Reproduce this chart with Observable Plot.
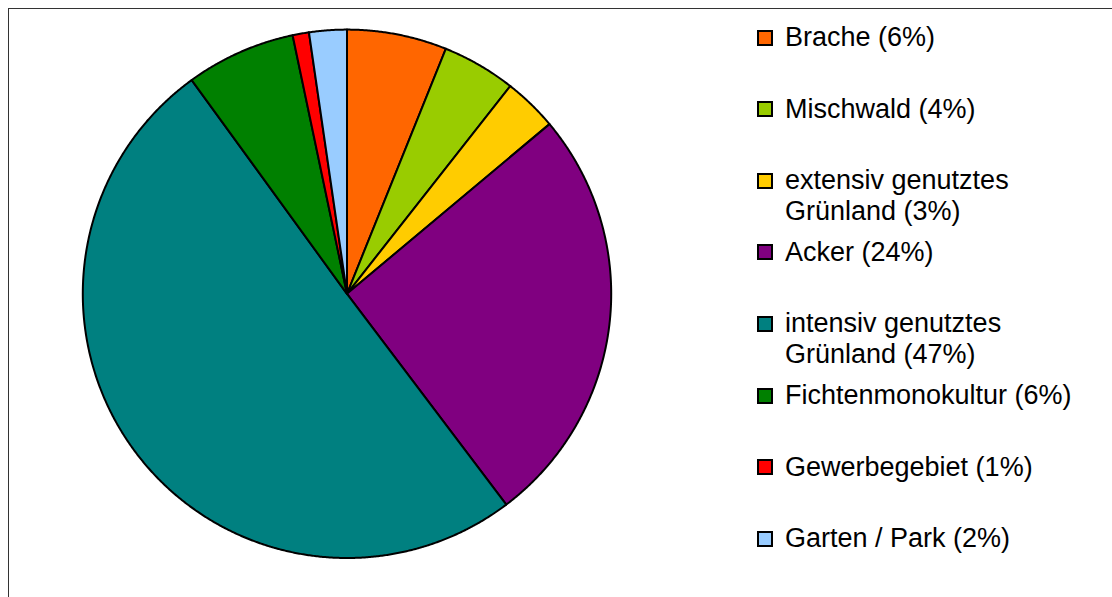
<!DOCTYPE html>
<html>
<head>
<meta charset="utf-8">
<script src="https://cdn.jsdelivr.net/npm/d3@7"></script>
<script src="https://cdn.jsdelivr.net/npm/@observablehq/plot@0.6"></script>
<style>
  html, body { margin: 0; padding: 0; background: #fff; overflow: hidden; }
  #wrap { position: relative; width: 1112px; height: 597px; overflow: hidden; font-family: "Liberation Sans", Arial, sans-serif; }
  #frame { position: absolute; left: 8px; top: 8px; width: 1300px; height: 800px; border: 1px solid #333; box-sizing: border-box; }
  #chart { position: absolute; left: 0; top: 0; }
  .sw { position: absolute; left: 757px; width: 16px; height: 16px; border: 2px solid #000; box-sizing: border-box; }
  .lab { position: absolute; left: 785px; width: 310px; font-size: 27px; line-height: 31px; color: #000; white-space: normal; }
</style>
</head>
<body>
<div id="wrap">
  <div id="frame"></div>
  <div id="chart"></div>
  <div id="legend"></div>
</div>
<script>
const categories = ["Brache", "Mischwald", "extensiv genutztes Grünland", "Acker", "intensiv genutztes Grünland", "Fichtenmonokultur", "Gewerbegebiet", "Garten / Park"];
const values = [6.1, 4.5, 3.3, 25.8, 50.3, 6.7, 1.0, 2.3];
const pctLabels = ["6%", "4%", "3%", "24%", "47%", "6%", "1%", "2%"];
const colors = ["#FF6600", "#99CC00", "#FFCC00", "#800080", "#008080", "#008000", "#FF0000", "#99CCFF"];

const slices = d3.pie().sort(null).value(d => d)(values);
const pts = [];
slices.forEach((s, i) => {
  const name = categories[i];
  pts.push({name, x: 0, y: 0});
  const n = Math.max(2, Math.ceil((s.endAngle - s.startAngle) / 0.005));
  for (let k = 0; k <= n; k++) {
    const a = s.startAngle + (s.endAngle - s.startAngle) * k / n;
    pts.push({name, x: Math.sin(a), y: Math.cos(a)});
  }
});

const cx = 346.5, cy = 293.3, r = 264.2;
const chart = Plot.plot({
  width: 1112,
  height: 597,
  margin: 0,
  x: {domain: [-1, 1], range: [cx - r, cx + r], axis: null},
  y: {domain: [-1, 1], range: [cy + r, cy - r], axis: null},
  color: {domain: categories, range: colors},
  style: {background: "transparent", overflow: "visible"},
  marks: [
    Plot.line(pts, {x: "x", y: "y", z: "name", fill: "name", stroke: "#000", strokeWidth: 2, strokeLinejoin: "round", curve: "linear-closed"})
  ]
});
document.getElementById("chart").appendChild(chart);

const legend = document.getElementById("legend");
categories.forEach((c, i) => {
  const center = 37.5 + 71.6 * i;
  const sw = document.createElement("div");
  sw.className = "sw";
  sw.style.top = (center - 8) + "px";
  sw.style.background = colors[i];
  const lab = document.createElement("div");
  lab.className = "lab";
  lab.style.top = (center - 15.6) + "px";
  lab.textContent = `${c} (${pctLabels[i]})`;
  legend.appendChild(sw);
  legend.appendChild(lab);
});
</script>
</body>
</html>
